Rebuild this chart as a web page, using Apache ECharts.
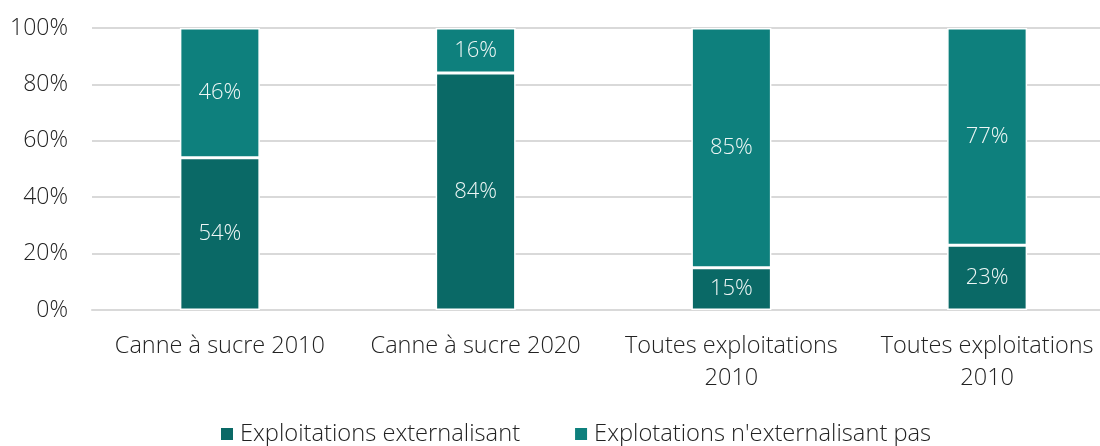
<!DOCTYPE html>
<html>
<head>
<meta charset="utf-8">
<script src="https://cdn.jsdelivr.net/npm/echarts@6/dist/echarts.min.js"></script>
<style>
  html, body { margin: 0; padding: 0; background: #ffffff; }
  #chart { width: 1100px; height: 446px; }
</style>
</head>
<body>
<div id="chart"></div>
<script>
// Share of farms outsourcing work, by group
const categories = ['Canne à sucre 2010', 'Canne à sucre 2020', 'Toutes exploitations\n2010', 'Toutes exploitations\n2010'];
const externalisant = [54, 84, 15, 23];
const nonExternalisant = [46, 16, 85, 77];
const seriesNames = ['Exploitations externalisant', "Explotations n'externalisant pas"];
const yTicks = [0, 20, 40, 60, 80, 100];

const FONT = '"Open Sans", "Noto Sans", sans-serif';
const DARK = '#0a6966';
const TEAL = '#0e807d';

const barLabel = {
  show: true,
  position: 'inside',
  color: '#eef6f5',
  fontFamily: FONT,
  fontSize: 22,
  fontWeight: 300,
  formatter: p => p.value + '%'
};

const chart = echarts.init(document.getElementById('chart'), null, { renderer: 'canvas' });
chart.setOption({
  animation: false,
  backgroundColor: '#ffffff',
  grid: { left: 92, right: -15, top: 28, bottom: 136, containLabel: false, outerBoundsMode: 'none' },
  xAxis: {
    type: 'category',
    data: categories,
    axisLine: { show: true, lineStyle: { color: '#d9d9d9', width: 2 } },
    axisTick: { show: false },
    axisLabel: {
      color: '#222222',
      fontFamily: FONT,
      fontSize: 23.5,
      fontWeight: 300,
      lineHeight: 32,
      margin: 20,
      interval: 0
    }
  },
  yAxis: {
    type: 'value',
    min: 0,
    max: 100,
    interval: 20,
    axisLine: { show: false },
    axisTick: { show: false },
    splitLine: { show: true, lineStyle: { color: '#d9d9d9', width: 2 } },
    axisLabel: {
      color: '#222222',
      fontFamily: FONT,
      fontSize: 23,
      fontWeight: 300,
      margin: 24,
      customValues: yTicks,
      formatter: v => v + '%'
    }
  },
  legend: {
    bottom: -5,
    left: 214,
    itemWidth: 14,
    itemHeight: 14,
    itemGap: 53,
    icon: 'rect',
    textStyle: { color: '#222222', fontFamily: FONT, fontSize: 23.7, fontWeight: 300, padding: [0, 0, 0, 1] },
    data: seriesNames
  },
  series: [
    {
      name: seriesNames[0],
      type: 'bar',
      stack: 'total',
      barWidth: 80,
      data: externalisant,
      itemStyle: { color: DARK, borderColor: '#ffffff', borderWidth: 1.5 },
      label: barLabel
    },
    {
      name: seriesNames[1],
      type: 'bar',
      stack: 'total',
      barWidth: 80,
      data: nonExternalisant,
      itemStyle: { color: TEAL, borderColor: '#ffffff', borderWidth: 1.5 },
      label: barLabel
    }
  ]
});
</script>
</body>
</html>
